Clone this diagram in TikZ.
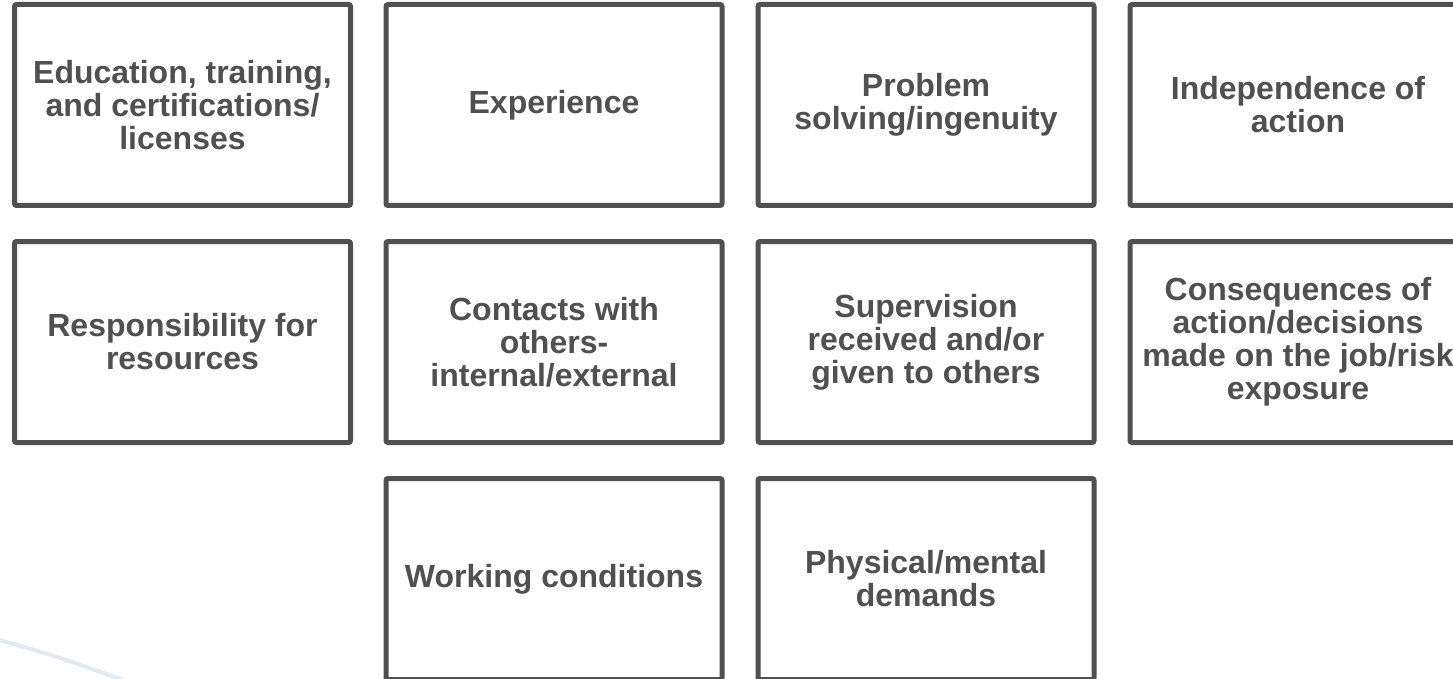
\documentclass[tikz,border=0pt]{standalone}
\usepackage{fontspec}
\setmainfont{Liberation Sans}
\definecolor{boxgray}{RGB}{80,80,80}
\definecolor{faintblue}{RGB}{226,233,243}
\begin{document}
\begin{tikzpicture}[x=1pt,y=-1pt,
  factor/.style={draw=boxgray, line width=5pt, rounded corners=2pt,
    minimum width=336pt, minimum height=201pt, inner sep=0pt,
    align=center, text=boxgray,
    font=\bfseries\fontsize{32}{33}\selectfont}]
\useasboundingbox (0,0) rectangle (1453,679);
\clip (0,0) rectangle (1453,679);
\fill[white] (0,0) rectangle (1453,679);
\coordinate (fa) at (-5,639);
\coordinate (fb) at (125,681);
\draw[faintblue, line width=4pt] (fa) .. controls (45,652) and (85,666) .. (fb);
\node[factor] (n1) at (182.5,105) {Education, training,\\and certifications/\\licenses};
\node[factor] (n2) at (554,105) {Experience};
\node[factor] (n3) at (926,105) {Problem\\solving/ingenuity};
\node[factor] (n4) at (1298,105) {Independence of\\action};
\node[factor] (n5) at (182.5,342) {Responsibility for\\resources};
\node[factor] (n6) at (554,342) {Contacts with\\others-\\internal/external};
\node[factor] (n7) at (926,342) {Supervision\\received and/or\\given to others};
\node[factor] (n8) at (1298,342) {Consequences of\\action/decisions\\made on the job/risk\\exposure};
\node[factor] (n9) at (554,579) {Working conditions};
\node[factor] (n10) at (926,579) {Physical/mental\\demands};
\end{tikzpicture}
\end{document}
